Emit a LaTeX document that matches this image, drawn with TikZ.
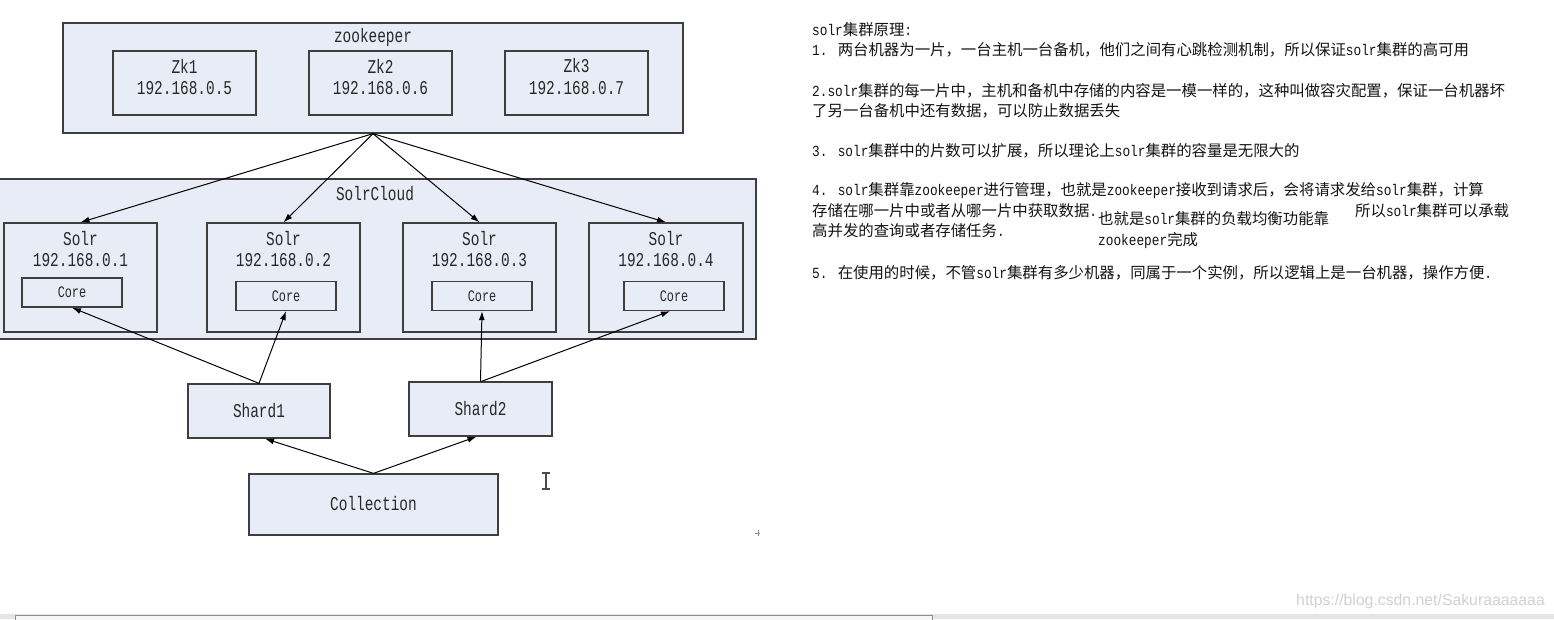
\documentclass[tikz,border=0pt]{standalone}
\usepackage{fontspec}
\usetikzlibrary{arrows.meta,calc}
\newfontfamily\dm[FakeStretch=0.83]{Liberation Mono}
\newfontfamily\dmd[FakeStretch=0.74]{Liberation Mono}
\newfontfamily\cjk{Noto Sans CJK SC}
\newfontfamily\wmfont{Liberation Sans}
\newcommand\lm[1]{{\dm #1}}
\definecolor{boxfill}{RGB}{232,236,246}
\definecolor{boxline}{RGB}{62,62,62}
\definecolor{lbl}{RGB}{40,40,40}
\definecolor{txt}{RGB}{20,20,20}
\tikzset{
  box/.style={draw=boxline, line width=1.3pt, fill=boxfill, inner sep=0pt},
  dlabel/.style={inner sep=0pt, text=lbl, font=\dmd\fontsize{19.5}{22}\selectfont},
  clabel/.style={inner sep=0pt, text=lbl, font=\dmd\fontsize{16}{18}\selectfont},
  arr/.style={draw=black, line width=1pt, -{Latex[length=9pt,width=6pt]}},
  para/.style={inner sep=0pt, anchor=base west, text=txt, font=\cjk\fontsize{15.4}{18}\selectfont},
}
\begin{document}
\begin{tikzpicture}[x=1pt,y=-1pt]
\useasboundingbox (0,0) rectangle (1554,619);
\fill[white] (0,0) rectangle (1554,619);

% zookeeper group
\node[box, minimum width=620, minimum height=110] (zk) at (373,78) {};
\node[dlabel] (zklbl) at (373,37) {zookeeper};
\foreach \i/\x/\ip in {1/184.5/5, 2/380.5/6, 3/576.5/7} {
  \node[box, minimum width=143, minimum height=64] (zk\i) at (\x,83) {};
  \node[dlabel] (zk\i t) at (\x,66) {Zk\i};
  \node[dlabel] (zk\i ip) at (\x,88) {192.168.0.\ip};
}

% SolrCloud group
\node[box, minimum width=760, minimum height=160] (cloud) at (376,259) {};
\node[dlabel] (cloudlbl) at (375,194) {SolrCloud};
\foreach \i/\x/\w/\cx/\cy in {1/80.5/153/72/292.5, 2/283.5/153/286/296, 3/479.5/153/482/296, 4/666/154/674/296} {
  \node[box, minimum width=\w, minimum height=109] (solr\i) at (\x,277.5) {};
  \node[dlabel] (solr\i t) at (\x,239) {Solr};
  \node[dlabel] (solr\i ip) at (\x,260) {192.168.0.\i};
  \node[box, minimum width=100, minimum height=29] (core\i) at (\cx,\cy) {};
  \node[clabel] (core\i t) at (\cx,\cy) {Core};
}

% shards and collection
\node[box, minimum width=142, minimum height=54] (shard1) at (259,411) {};
\node[dlabel] (shard1t) at (259,411) {Shard1};
\node[box, minimum width=143, minimum height=54] (shard2) at (480.5,409) {};
\node[dlabel] (shard2t) at (480.5,409) {Shard2};
\node[box, minimum width=249, minimum height=61] (coll) at (373.5,504.5) {};
\node[dlabel] (collt) at (373.5,504) {Collection};

% connectors
\foreach \i in {1,2,3,4} { \draw[arr] (zk.south) -- (solr\i.north); }
\draw[arr] (shard1.north) -- (core1.south);
\draw[arr] (shard1.north) -- (core2.south);
\draw[arr] (shard2.north) -- (core3.south);
\draw[arr] ([xshift=1pt]shard2.north) -- ([xshift=-4pt]core4.south);
\draw[arr] (coll.north) -- ([xshift=6pt]shard1.south);
\draw[arr] (coll.north) -- ([xshift=-4pt]shard2.south);

% cursor and small mark
\draw[line width=1.6pt, black!70] (546,473) -- (546,489) (542,473) -- (550,473) (542,489) -- (550,489);
\draw[line width=1pt, black!45] (755,533) -- (760,533) (758,530) -- (758,536);

% explanatory text
\node[para] (p0) at (812,35) {\lm{solr}集群原理\lm{:}};
\node[para] (p1) at (812,55) {\lm{1. }两台机器为一片，一台主机一台备机，他们之间有心跳检测机制，所以保证\lm{solr}集群的高可用};
\node[para] (p2) at (812,96) {\lm{2.solr}集群的每一片中，主机和备机中存储的内容是一模一样的，这种叫做容灾配置，保证一台机器坏};
\node[para] (p2b) at (812,116) {了另一台备机中还有数据，可以防止数据丢失};
\node[para] (p3) at (812,156) {\lm{3. solr}集群中的片数可以扩展，所以理论上\lm{solr}集群的容量是无限大的};
\node[para] (p4) at (812,195) {\lm{4. solr}集群靠\lm{zookeeper}进行管理，也就是\lm{zookeeper}接收到请求后，会将请求发给\lm{solr}集群，计算};
\node[para] (p4b) at (812,216) {存储在哪一片中或者从哪一片中获取数据\lm{.}};
\node[para] (p4c) at (1355,216) {所以\lm{solr}集群可以承载};
\node[para] (p4d) at (812,236) {高并发的查询或者存储任务\lm{.}};
\node[para] (p4e) at (1098,224) {也就是\lm{solr}集群的负载均衡功能靠};
\node[para] (p4f) at (1098,245) {\lm{zookeeper}完成};
\node[para] (p5) at (812,278) {\lm{5. }在使用的时候，不管\lm{solr}集群有多少机器，同属于一个实例，所以逻辑上是一台机器，操作方便\lm{.}};

% watermark
\node[inner sep=0pt, anchor=west, text=black!18, font=\wmfont\fontsize{15.8}{18}\selectfont] (wm) at (1296,601) {https://blog.csdn.net/Sakuraaaaaaa};

% bottom bar
\fill[black!10] (0,614) rectangle (1554,619);
\draw[black!45, fill=black!3, line width=0.8pt] (15,615) rectangle (932,622);
\end{tikzpicture}
\end{document}
